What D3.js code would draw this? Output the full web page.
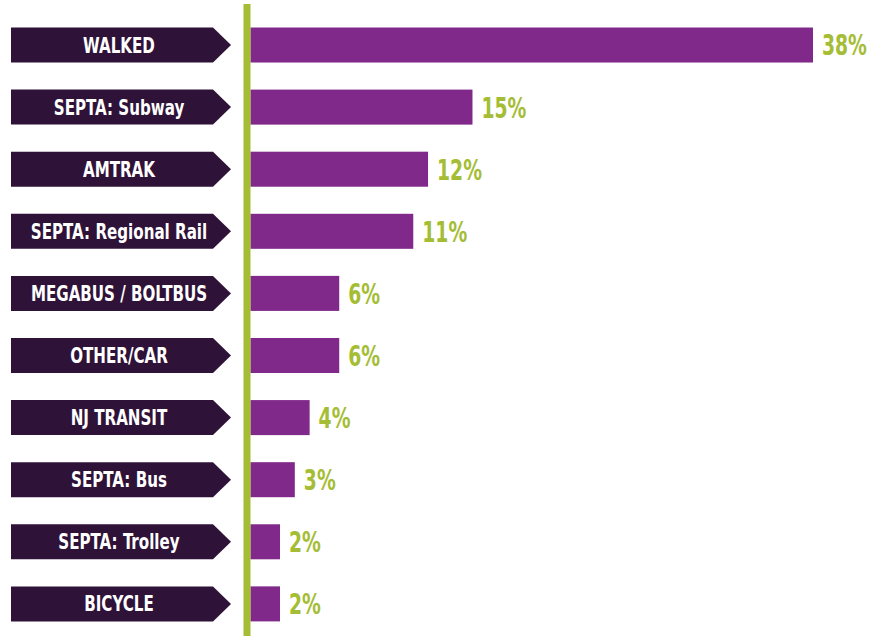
<!DOCTYPE html>
<html>
<head>
<meta charset="utf-8">
<script src="https://cdn.jsdelivr.net/npm/d3@7"></script>
<style>
  html, body { margin: 0; padding: 0; background: #ffffff; }
  svg { display: block; }
  .lbl { font-family: "DejaVu Sans Condensed", "DejaVu Sans", sans-serif; font-weight: bold; }
</style>
</head>
<body>
<svg id="chart" width="885" height="636"></svg>
<script>
const categories = ["WALKED", "SEPTA: Subway", "AMTRAK", "SEPTA: Regional Rail", "MEGABUS / BOLTBUS",
                    "OTHER/CAR", "NJ TRANSIT", "SEPTA: Bus", "SEPTA: Trolley", "BICYCLE"];
const values = [38, 15, 12, 11, 6, 6, 4, 3, 2, 2];
const valueLabels = ["38%", "15%", "12%", "11%", "6%", "6%", "4%", "3%", "2%", "2%"];

const data = categories.map((c, i) => ({ cat: c, val: values[i], lab: valueLabels[i] }));

const svg = d3.select("#chart");
const W = 885, H = 636;

const x = d3.scaleLinear().domain([0, 38]).range([250.4, 813]);
const y = d3.scaleBand().domain(categories).range([27.5, 621.4]).paddingInner(0.436).paddingOuter(0);

const BANNER_COL = "#2f1238";
const BAR_COL = "#80298a";
const GREEN = "#a4bd35";

// bars
svg.append("g").selectAll("rect").data(data).join("rect")
  .attr("x", x(0))
  .attr("y", d => y(d.cat))
  .attr("width", d => x(d.val) - x(0))
  .attr("height", y.bandwidth())
  .attr("fill", BAR_COL);

// vertical green axis line
svg.append("line")
  .attr("x1", 247).attr("x2", 247)
  .attr("y1", 4).attr("y2", H)
  .attr("stroke", GREEN).attr("stroke-width", 7);

// banners (arrow-shaped labels)
const bx0 = 11, bx1 = 213, tip = 231;
const banners = svg.append("g").selectAll("g").data(data).join("g");
banners.append("path")
  .attr("d", d => {
    const t = y(d.cat), b = t + y.bandwidth(), m = t + y.bandwidth() / 2;
    return `M${bx0},${t} L${bx1},${t} L${tip},${m} L${bx1},${b} L${bx0},${b} Z`;
  })
  .attr("fill", BANNER_COL);
banners.append("text")
  .attr("class", "lbl")
  .attr("transform", d => `translate(119,${y(d.cat) + y.bandwidth() / 2}) scale(0.8,1)`)
  .attr("text-anchor", "middle")
  .attr("dy", "0.36em")
  .attr("font-size", 21)
  .attr("fill", "#ffffff")
  .text(d => d.cat);

// value labels
svg.append("g").selectAll("text").data(data).join("text")
  .attr("class", "lbl")
  .attr("transform", d => `translate(${x(d.val) + 9},${y(d.cat) + y.bandwidth() / 2}) scale(0.72,1)`)
  .attr("dy", "0.36em")
  .attr("font-size", 29)
  .attr("fill", GREEN)
  .text(d => d.lab);
</script>
</body>
</html>
